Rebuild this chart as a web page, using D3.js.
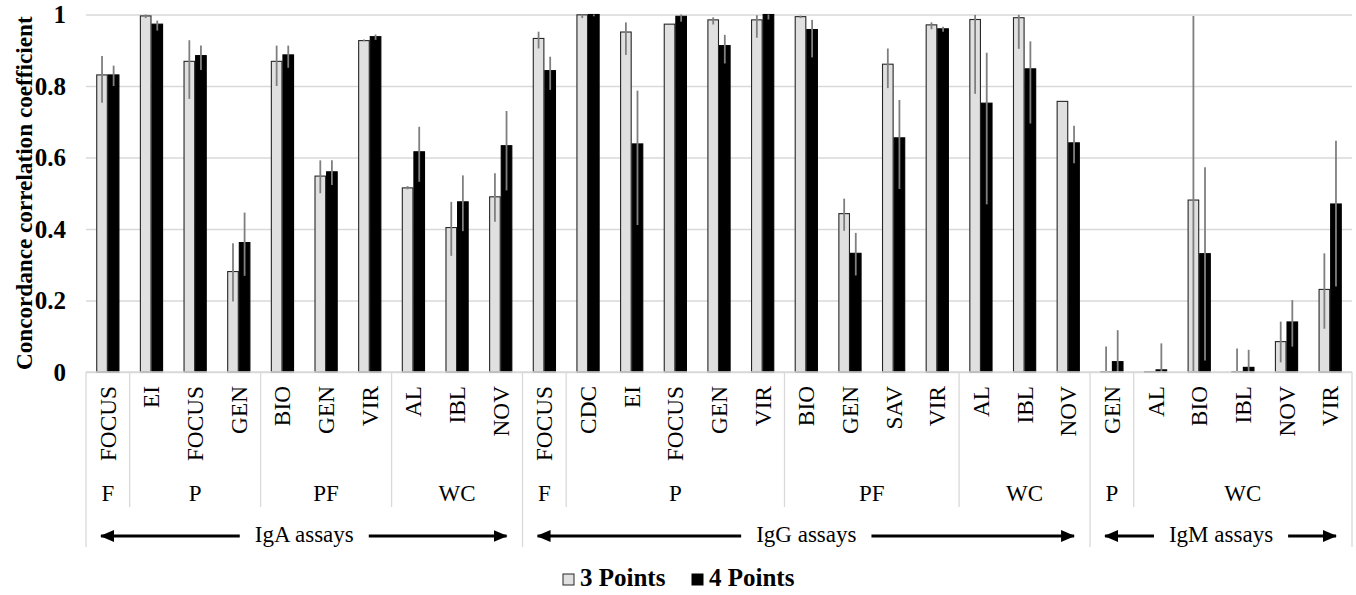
<!DOCTYPE html>
<html>
<head>
<meta charset="utf-8">
<script src="https://cdn.jsdelivr.net/npm/d3@7"></script>
<style>
  html, body { margin: 0; padding: 0; background: #fff; }
  svg { display: block; }
  svg text { font-family: 'Liberation Serif', 'Times New Roman', Times, 'DejaVu Serif', serif; }
</style>
</head>
<body>
<svg id="chart" width="1356" height="595"></svg>
<script>
// ---------- data ----------
const categories = ["FOCUS","EI","FOCUS","GEN","BIO","GEN","VIR","AL","IBL","NOV",
  "FOCUS","CDC","EI","FOCUS","GEN","VIR","BIO","GEN","SAV","VIR","AL","IBL","NOV",
  "GEN","AL","BIO","IBL","NOV","VIR"];
const subgroupLabels = ["F","P","PF","WC","F","P","PF","WC","P","WC"];
const subgroupSizes  = [1,3,3,3,1,5,4,3,1,5];
const assayLabels = ["IgA assays","IgG assays","IgM assays"];
const assaySizes  = [10,13,6];
const seriesNames = ["3 Points","4 Points"];

const three   = [0.831,0.996,0.869,0.281,0.869,0.548,0.927,0.515,0.404,0.490,
  0.933,0.999,0.951,0.973,0.985,0.985,0.994,0.443,0.861,0.971,0.986,0.991,0.757,
  0.001,0.001,0.481,0.001,0.085,0.231];
const threeLo = [0.753,0.990,0.764,0.197,0.800,0.500,0.925,0.511,0.325,0.420,
  0.905,0.990,0.887,0.973,0.972,0.935,0.990,0.395,0.794,0.959,0.778,0.904,0.757,
  0.000,0.001,0.000,0.000,0.027,0.121];
const threeHi = [0.884,1.000,0.928,0.360,0.913,0.592,0.930,0.520,0.476,0.556,
  0.952,1.000,0.978,0.973,0.992,0.998,0.997,0.485,0.905,0.978,0.999,0.999,0.757,
  0.071,0.001,0.996,0.066,0.141,0.332];

const four    = [0.831,0.973,0.885,0.362,0.887,0.560,0.938,0.616,0.476,0.633,
  0.843,1.000,0.638,0.995,0.913,1.000,0.958,0.332,0.655,0.960,0.752,0.848,0.641,
  0.029,0.006,0.331,0.013,0.140,0.470];
const fourLo  = [0.800,0.955,0.845,0.269,0.851,0.523,0.929,0.532,0.394,0.508,
  0.789,0.995,0.411,0.980,0.863,0.986,0.880,0.270,0.512,0.952,0.469,0.695,0.584,
  0.000,0.000,0.032,0.000,0.071,0.239];
const fourHi  = [0.857,0.983,0.913,0.446,0.913,0.592,0.944,0.686,0.550,0.730,
  0.882,1.000,0.787,1.000,0.943,1.000,0.985,0.389,0.761,0.966,0.893,0.925,0.689,
  0.117,0.080,0.573,0.062,0.201,0.647];
const yTicks = [0,0.2,0.4,0.6,0.8,1];
const yTickLabels = ["0","0.2","0.4","0.6","0.8","1"];
const yTitle = "Concordance correlation coefficient";

// ---------- layout ----------
const svg = d3.select("#chart");
const pL = 86, pR = 1352, pT = 14.5, pB = 372;
const idx = d3.range(categories.length);
const x = d3.scaleBand().domain(idx).range([pL, pR]).padding(0);
const y = d3.scaleLinear().domain([0,1]).range([pB, pT]);
const bw = 10.6, gap = 1.0;

// gridlines + y labels via axis
const yAxis = d3.axisLeft(y).tickValues(yTicks)
  .tickFormat((d,i) => yTickLabels[i])
  .tickSize(-(pR-pL)).tickPadding(20);
const gy = svg.append("g").attr("transform", `translate(${pL},0)`).call(yAxis);
gy.attr("font-family", null).attr("font-size", null);
gy.select(".domain").remove();
gy.selectAll(".tick line").attr("stroke", "#d9d9d9").attr("stroke-width", 1.3);
gy.selectAll(".tick text")
  .style("font-weight", "bold")
  .style("font-size", "25px").attr("fill", "#000").attr("x", -20);

// y title
svg.append("text")
  .attr("transform", `translate(32,${(pT+pB)/2}) rotate(-90)`)
  .attr("text-anchor", "middle")
  .style("font-weight", "bold").style("font-size", "23.2px")
  .text(yTitle);

// bars
const cx = i => x(i) + x.bandwidth()/2;
const series = [
  {v: three, lo: threeLo, hi: threeHi, fill: "#e0e0e0", stroke: "#262626", off: -gap/2 - bw},
  {v: four,  lo: fourLo,  hi: fourHi,  fill: "#000000", stroke: "#000000", off: gap/2}
];
series.forEach(s => {
  svg.append("g").selectAll("rect").data(idx).join("rect")
    .attr("x", i => cx(i) + s.off)
    .attr("y", i => y(s.v[i]))
    .attr("width", bw)
    .attr("height", i => Math.max(0, y(0) - y(s.v[i])))
    .attr("fill", s.fill).attr("stroke", s.stroke).attr("stroke-width", 1.1);
});
series.forEach(s => {
  svg.append("g").selectAll("line").data(idx.filter(i => s.hi[i] > s.lo[i])).join("line")
    .attr("x1", i => cx(i) + s.off + bw/2).attr("x2", i => cx(i) + s.off + bw/2)
    .attr("y1", i => y(s.hi[i])).attr("y2", i => y(s.lo[i]))
    .attr("stroke", "#7f7f7f").attr("stroke-width", 1.8);
});

// category axis line
svg.append("line").attr("x1", pL).attr("x2", pR).attr("y1", pB).attr("y2", pB)
  .attr("stroke", "#d9d9d9").attr("stroke-width", 1.3);

// category labels
svg.append("g").selectAll("text").data(idx).join("text")
  .attr("transform", i => `translate(${cx(i)+8},386) rotate(-90)`)
  .attr("text-anchor", "end")
  .style("font-size", "23.3px")
  .text(i => categories[i]);

// subgroup separators and labels
let start = 0;
const subBounds = [];
subgroupSizes.forEach((n, k) => {
  subBounds.push([start, start + n]);
  start += n;
});
const majorEdges = new Set([0]);
{ let s = 0; assaySizes.forEach(n => { s += n; majorEdges.add(s); }); }
const edgeSet = new Set([0]);
subBounds.forEach(b => edgeSet.add(b[1]));
const edgeX = e => e >= categories.length ? pR : x(e);
svg.append("g").selectAll("line").data([...edgeSet]).join("line")
  .attr("x1", e => edgeX(e)).attr("x2", e => edgeX(e))
  .attr("y1", pB).attr("y2", e => majorEdges.has(e) ? 547 : 507)
  .attr("stroke", "#d9d9d9").attr("stroke-width", 1.3);

svg.append("g").selectAll("text").data(subBounds).join("text")
  .attr("x", b => (edgeX(b[0]) + edgeX(b[1]))/2)
  .attr("y", 501)
  .attr("text-anchor", "middle")
  .style("font-size", "23px")
  .text((b, k) => subgroupLabels[k]);

// assay labels with arrows
const defs = svg.append("defs");
defs.append("marker").attr("id", "ah").attr("viewBox", "0 0 14 12")
  .attr("refX", 13).attr("refY", 6).attr("markerWidth", 14).attr("markerHeight", 12)
  .attr("markerUnits", "userSpaceOnUse").attr("orient", "auto-start-reverse")
  .append("path").attr("d", "M0,0 L14,6 L0,12 Z").attr("fill", "#000");

let s0 = 0;
const assayBounds = assaySizes.map(n => { const b = [s0, s0 + n]; s0 += n; return b; });
const arrowY = 536;
assayBounds.forEach((b, k) => {
  const x0 = edgeX(b[0]), x1 = edgeX(b[1]);
  const mid = (x0 + x1) / 2;
  const t = svg.append("text").attr("x", mid).attr("y", 542)
    .attr("text-anchor", "middle")
    .style("font-size", "23px")
    .text(assayLabels[k]);
  const w = t.node().getComputedTextLength();
  svg.append("line").attr("x1", mid - w/2 - 15).attr("x2", x0 + 15)
    .attr("y1", arrowY).attr("y2", arrowY)
    .attr("stroke", "#000").attr("stroke-width", 3).attr("marker-end", "url(#ah)");
  svg.append("line").attr("x1", mid + w/2 + 15).attr("x2", x1 - 16)
    .attr("y1", arrowY).attr("y2", arrowY)
    .attr("stroke", "#000").attr("stroke-width", 3).attr("marker-end", "url(#ah)");
});

// legend
const legend = svg.append("g");
const legItems = [
  {name: seriesNames[0], fill: "#e0e0e0", stroke: "#262626", x: 563},
  {name: seriesNames[1], fill: "#000", stroke: "#000", x: 692}
];
legItems.forEach(it => {
  legend.append("rect").attr("x", it.x).attr("y", 574).attr("width", 11).attr("height", 11)
    .attr("fill", it.fill).attr("stroke", it.stroke).attr("stroke-width", 1);
  legend.append("text").attr("x", it.x + 17).attr("y", 586)
    .style("font-weight", "bold").style("font-size", "25px")
    .text(it.name);
});
</script>
</body>
</html>
